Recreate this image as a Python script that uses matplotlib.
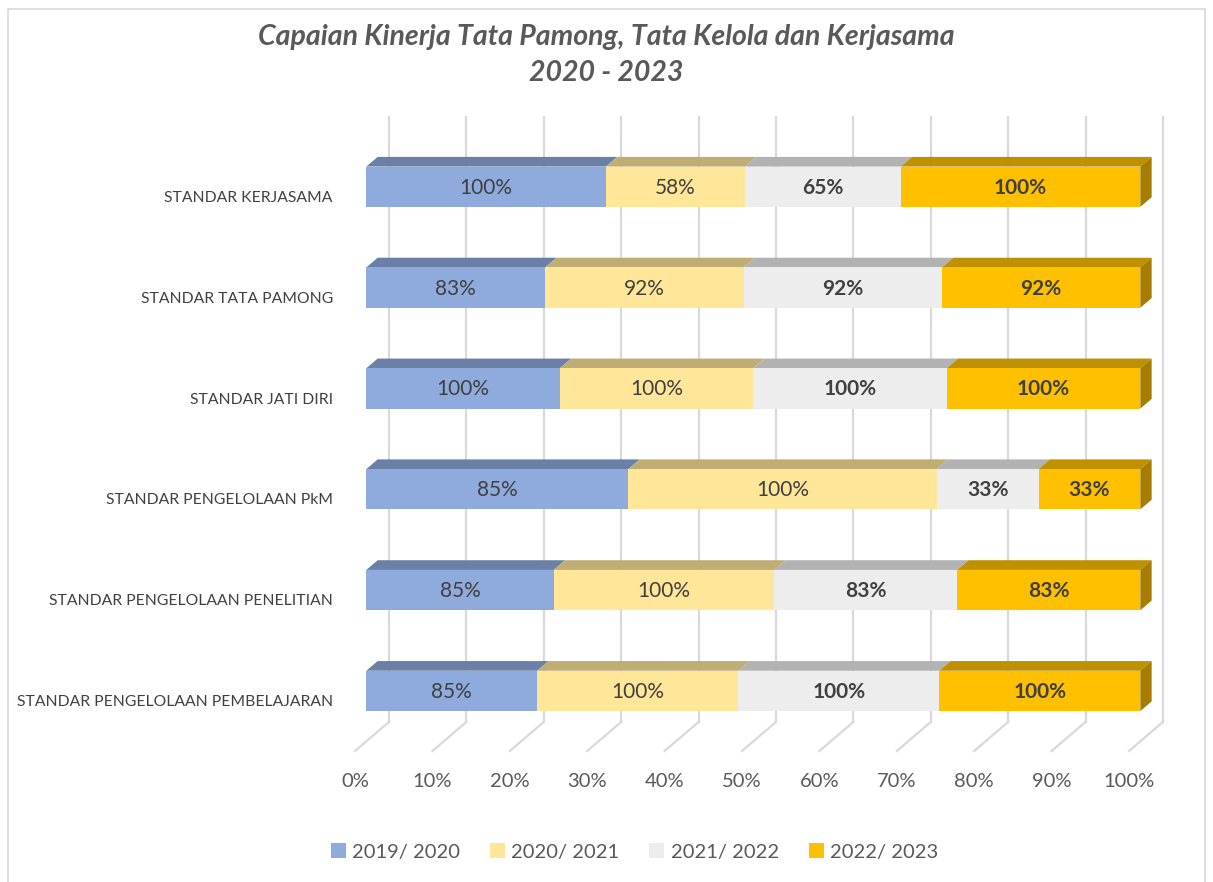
import matplotlib.pyplot as plt
from matplotlib.patches import Polygon, Patch, Rectangle

# data (raw scores, drawn as 100% stacked)
categories = ['STANDAR PENGELOLAAN PEMBELAJARAN', 'STANDAR PENGELOLAAN PENELITIAN',
              'STANDAR PENGELOLAAN PkM', 'STANDAR JATI DIRI', 'STANDAR TATA PAMONG',
              'STANDAR KERJASAMA']
series_names = ['2019/ 2020', '2020/ 2021', '2021/ 2022', '2022/ 2023']
s2019 = [85, 85, 85, 100, 83, 100]
s2020 = [100, 100, 100, 100, 92, 58]
s2021 = [100, 83, 33, 100, 92, 65]
s2022 = [100, 83, 33, 100, 92, 100]
x_ticks = [0, 10, 20, 30, 40, 50, 60, 70, 80, 90, 100]

front_colors = ['#8FAADC', '#FFE699', '#EDEDED', '#FFC000']
top_colors = ['#6B80A6', '#C0AD73', '#B2B2B2', '#BF9000']
side_color = '#A67D00'
bold_labels = [False, False, True, True]
text_color = '#404040'

plt.rcParams['font.family'] = ['Lato', 'DejaVu Sans']

# 3d depth offset (full floor depth) in data units
DX = 4.39
DY = 0.288
BAR_H = 0.4
D0, D1 = 1 / 3, 2 / 3


def proj(p, y, d):
    return (p + d * DX, y + d * DY)


fig = plt.figure(figsize=(12.13, 8.82), dpi=100)
fig.patches.append(Rectangle((8 / 1213, -0.01), 1197 / 1213, 1 - 9 / 882 + 0.01,
                             transform=fig.transFigure, fill=False,
                             edgecolor='#D9D9D9', linewidth=1.2))
ax = fig.add_axes([355 / 1213, 131 / 882, 774 / 1213, 605 / 882])
ax.set_xlim(0, 100)
ax.set_ylim(-0.5, 5.5)
for s in ax.spines.values():
    s.set_visible(False)

# back wall grid + floor diagonals
for p in x_ticks:
    xb0, yb0 = proj(p, -0.5, 1)
    xb1, yb1 = proj(p, 5.5, 1)
    xf, yf = proj(p, -0.5, 0)
    ax.plot([xb0, xb1], [yb0, yb1], color='#D9D9D9', lw=1.6, clip_on=False, zorder=1)
    ax.plot([xf, xb0], [yf, yb0], color='#D9D9D9', lw=1.6, clip_on=False, zorder=1)

all_series = [s2019, s2020, s2021, s2022]
for i in range(len(categories)):
    vals = [s[i] for s in all_series]
    total = sum(vals)
    left = 0
    yb = i - BAR_H / 2
    yt = i + BAR_H / 2
    for k, v in enumerate(vals):
        w = v / total * 100
        right = left + w
        top = [proj(left, yt, D0), proj(right, yt, D0), proj(right, yt, D1), proj(left, yt, D1)]
        front = [proj(left, yb, D0), proj(right, yb, D0), proj(right, yt, D0), proj(left, yt, D0)]
        ax.add_patch(Polygon(top, closed=True, facecolor=top_colors[k], edgecolor='none',
                             clip_on=False, zorder=3))
        ax.add_patch(Polygon(front, closed=True, facecolor=front_colors[k], edgecolor='none',
                             clip_on=False, zorder=3))
        if k == len(vals) - 1:
            side = [proj(right, yb, D0), proj(right, yt, D0), proj(right, yt, D1), proj(right, yb, D1)]
            ax.add_patch(Polygon(side, closed=True, facecolor=side_color, edgecolor='none',
                                 clip_on=False, zorder=3))
        cx, cy = proj(left + w / 2, i, D0)
        ax.text(cx, cy - 0.01, f'{v}%', ha='center', va='center', fontsize=15, color=text_color,
                fontweight='bold' if bold_labels[k] else 'normal', zorder=4)
        left = right

ax.set_xticks(x_ticks)
ax.set_xticklabels([f'{t}%' for t in x_ticks], fontsize=14.5, color='#595959')
ax.set_yticks(range(len(categories)))
ax.set_yticklabels(categories, fontsize=11.3, color=text_color)
ax.tick_params(axis='x', length=0, pad=16)
ax.tick_params(axis='y', length=0, pad=16)

fig.text(0.5, 1 - 37 / 882, 'Capaian Kinerja Tata Pamong, Tata Kelola dan Kerjasama',
         ha='center', va='center', fontsize=20.5, fontstyle='italic', fontweight='bold',
         color='#595959')
fig.text(0.5, 1 - 73 / 882, '2020 - 2023', ha='center', va='center', fontsize=20.5,
         fontstyle='italic', fontweight='bold', color='#595959')

handles = [Patch(facecolor=c, edgecolor='none') for c in front_colors]
fig.legend(handles, series_names, loc='center', bbox_to_anchor=(0.523, 1 - 852 / 882),
           ncol=4, frameon=False, fontsize=14.5, handlelength=0.75, handleheight=0.75,
           handletextpad=0.3, columnspacing=1.5, labelcolor='#595959')

fig.savefig('out.png', dpi=100)
